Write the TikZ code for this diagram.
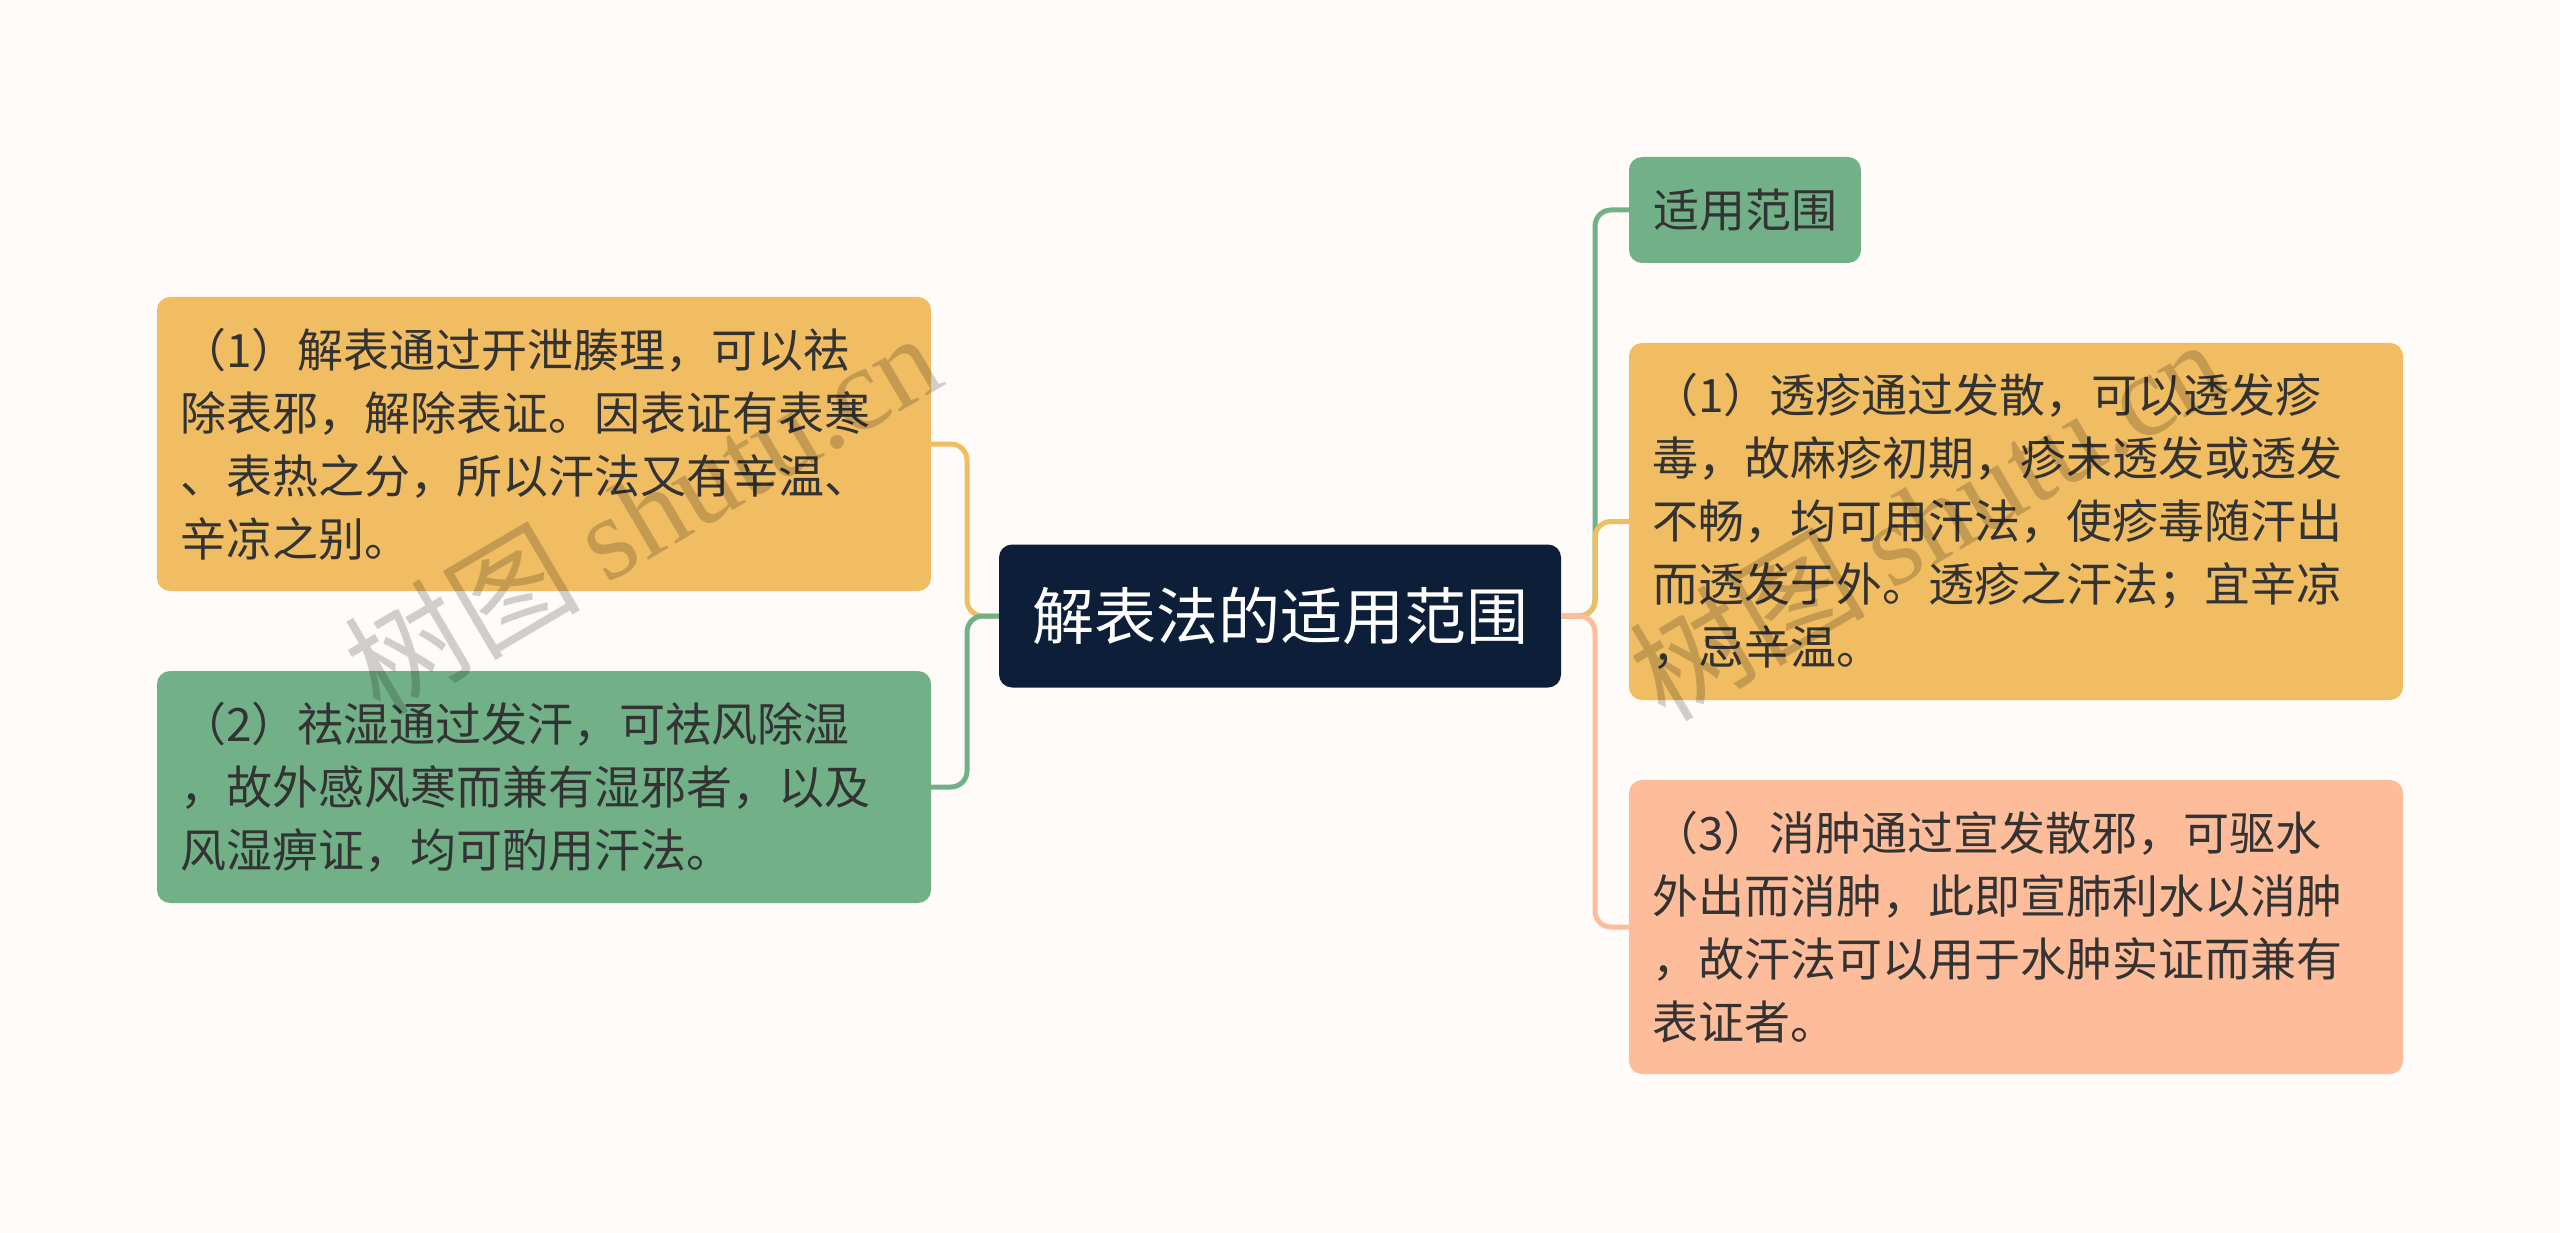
\documentclass[tikz,border=0pt]{standalone}
\usepackage{fontspec}
\setmainfont{Noto Sans CJK SC}
\newfontfamily\wmserif{Liberation Serif}
\definecolor{bgc}{HTML}{FFFBF9}
\definecolor{orangec}{HTML}{F0BD63}
\definecolor{greenc}{HTML}{72B188}
\definecolor{salmonc}{HTML}{FDBD9B}
\definecolor{rootc}{HTML}{0C1E38}
\definecolor{txtc}{HTML}{333333}
\begin{document}
\begin{tikzpicture}[x=1pt,y=-1pt,
  box/.style={rounded corners=13pt, inner xsep=23pt, inner ysep=0pt,
    text width=728pt, align=left, text=txtc,
    font=\fontsize{46}{63}\selectfont},
  link/.style={line width=5pt, rounded corners=16pt},
  wm/.style={rotate=30.5, text=black, opacity=0.18, font=\fontsize{118}{118}\selectfont}
]
\fill[bgc] (0,0) rectangle (2560,1233);
\useasboundingbox (0,0) rectangle (2560,1233);

% root
\node[fill=rootc, rounded corners=13pt, minimum width=562pt, minimum height=143pt,
  text=white, font=\fontsize{62}{62}\selectfont, inner sep=0pt] (root) at (1280,616) {解表法的适用范围};

% left boxes
\node[box, fill=orangec, minimum height=294pt] (b1) at (544,444) {（1）解表通过开泄腠理，可以祛\\除表邪，解除表证。因表证有表寒\\、表热之分，所以汗法又有辛温、\\辛凉之别。};
\node[box, fill=greenc, minimum height=232pt] (b2) at (544,787) {（2）祛湿通过发汗，可祛风除湿\\，故外感风寒而兼有湿邪者，以及\\风湿痹证，均可酌用汗法。};

% right boxes
\node[fill=greenc, rounded corners=13pt, minimum width=232pt, minimum height=106pt,
  text=txtc, font=\fontsize{46}{63}\selectfont, inner sep=0pt] (r0) at (1745,210) {适用范围};
\node[box, fill=orangec, minimum height=357pt] (r1) at (2016,521.5) {（1）透疹通过发散，可以透发疹\\毒，故麻疹初期，疹未透发或透发\\不畅，均可用汗法，使疹毒随汗出\\而透发于外。透疹之汗法；宜辛凉\\，忌辛温。};
\node[box, fill=salmonc, minimum height=294pt] (r3) at (2016,927) {（3）消肿通过宣发散邪，可驱水\\外出而消肿，此即宣肺利水以消肿\\，故汗法可以用于水肿实证而兼有\\表证者。};

% junctions
\coordinate (jl) at (967,616);
\coordinate (jr) at (1595,616);

% connectors left
\draw[link, orangec] (b1.east) -- (b1.east -| jl) -- (jl) -- (root.west);
\draw[link, greenc] (b2.east) -- (b2.east -| jl) -- (jl) -- (root.west);

% connectors right
\draw[link, greenc] (root.east) -- (jr) -- (jr |- r0.west) -- (r0.west);
\draw[link, orangec] (root.east) -- (jr) -- (jr |- r1.west) -- (r1.west);
\draw[link, salmonc] (root.east) -- (jr) -- (jr |- r3.west) -- (r3.west);

% watermarks
\node[wm] (wm1) at (642,512) {树图 {\wmserif shutu.cn}};
\node[wm] (wm2) at (1927,518) {树图 {\wmserif shutu.cn}};
\end{tikzpicture}
\end{document}
